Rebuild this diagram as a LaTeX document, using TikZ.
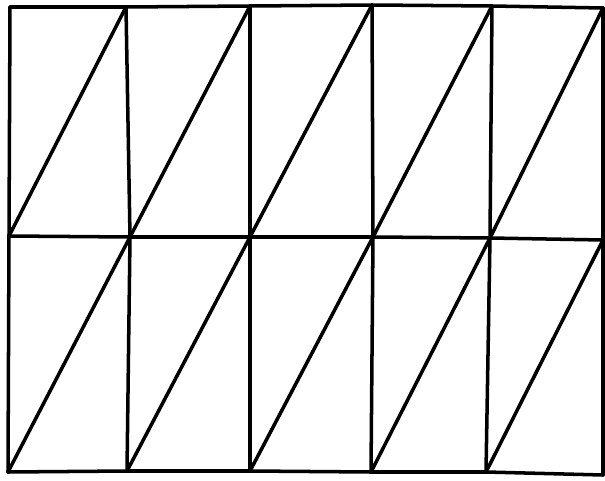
\documentclass[tikz,border=0pt]{standalone}
\usepackage{tikz}
\usetikzlibrary{positioning}

\begin{document}
\begin{tikzpicture}[x=0.02cm, y=-0.02cm, every path/.style={line width=2pt, line join=round, line cap=round}]
\path[use as bounding box] (0,0) rectangle (605,480);
% grid points, top, middle and bottom row
\coordinate (T0) at (10,7);
\coordinate (T1) at (126,7);
\coordinate (T2) at (250,6);
\coordinate (T3) at (372,5);
\coordinate (T4) at (492,6);
\coordinate (T5) at (603,8);
\coordinate (M0) at (9,236);
\coordinate (M1) at (130,237);
\coordinate (M2) at (250,237);
\coordinate (M3) at (373,237);
\coordinate (M4) at (490,238);
\coordinate (M5) at (603,240);
\coordinate (B0) at (8,472);
\coordinate (B1) at (127,471);
\coordinate (B2) at (250,471);
\coordinate (B3) at (371,472);
\coordinate (B4) at (486,472);
\coordinate (B5) at (603,475);
\draw (T0) -- (T1) -- (T2) -- (T3) -- (T4) -- (T5);
\draw (M0) -- (M1) -- (M2) -- (M3) -- (M4) -- (M5);
\draw (B0) -- (B1) -- (B2) -- (B3) -- (B4) -- (B5);
\foreach \i in {0,...,5}
  \draw (T\i) -- (M\i) -- (B\i);
\foreach \i [evaluate=\i as \j using int(\i+1)] in {0,...,4} {
  \draw (M\i) -- (T\j);
  \draw (B\i) -- (M\j);
}
\end{tikzpicture}
\end{document}
